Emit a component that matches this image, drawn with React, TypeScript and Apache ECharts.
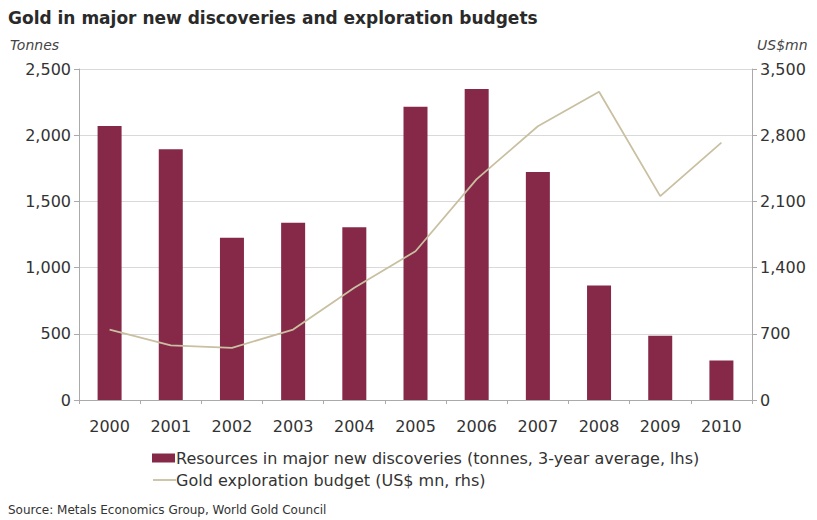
import React, { useEffect, useRef } from "react";
import * as echarts from "echarts";

const years = ["2000", "2001", "2002", "2003", "2004", "2005", "2006", "2007", "2008", "2009", "2010"];
const resources = [2070, 1894, 1225, 1339, 1305, 2214, 2348, 1722, 864, 485, 298];
const budget = [745, 578, 551, 745, 1188, 1573, 2335, 2895, 3259, 2156, 2722];
const leftTicks = { min: 0, max: 2500, interval: 500 };
const rightTicks = { min: 0, max: 3500, interval: 700 };

const titleText = "Gold in major new discoveries and exploration budgets";
const barName = "Resources in major new discoveries (tonnes, 3-year average, lhs)";
const lineName = "Gold exploration budget (US$ mn, rhs)";
const sourceText = "Source: Metals Economics Group, World Gold Council";

const FONT = "DejaVu Sans, Verdana, sans-serif";
const BAR_COLOR = "#862848";
const LINE_COLOR = "#c9c0a2";
const fmt = (v: number) => v.toLocaleString("en-US");

export default function App() {
  const ref = useRef<HTMLDivElement>(null);
  useEffect(() => {
    if (!ref.current) return;
    const chart = echarts.init(ref.current, null, { renderer: "svg" });
    chart.setOption({
      animation: false,
      backgroundColor: "#ffffff",
      textStyle: { fontFamily: FONT },
      grid: { left: 79, right: 65, top: 69, bottom: 120 },
      legend: {
        orient: "vertical",
        left: 147,
        top: 444,
        padding: 5,
        itemWidth: 23,
        itemHeight: 9,
        itemGap: 4,
        textStyle: { fontSize: 16, color: "#333", fontFamily: FONT, lineHeight: 18, padding: [0, 0, 0, -4] },
        data: [
          { name: barName, icon: "rect" },
          { name: lineName, icon: "none" },
        ],
      },
      graphic: [
        { type: "text", left: 8, top: 9, style: { text: titleText, fontSize: 17, fontWeight: "bold", fill: "#2a2a2a", fontFamily: FONT } },
        { type: "text", left: 10, top: 38, style: { text: "Tonnes", fontSize: 14, fontStyle: "italic", fill: "#444", fontFamily: FONT } },
        { type: "text", left: 757, top: 38, style: { text: "US$mn", fontSize: 14, fontStyle: "italic", fill: "#444", fontFamily: FONT } },
        { type: "text", left: 8, top: 504, style: { text: sourceText, fontSize: 12, fill: "#333", fontFamily: FONT } },
        { type: "line", shape: { x1: 153, y1: 480, x2: 176, y2: 480 }, style: { stroke: LINE_COLOR, lineWidth: 1.8 } },
      ],
      xAxis: {
        type: "category",
        data: years,
        axisLine: { lineStyle: { color: "#aaa" } },
        axisTick: { show: true, length: 4, lineStyle: { color: "#aaa" } },
        axisLabel: { fontSize: 16, color: "#333", margin: 18, fontFamily: FONT },
      },
      yAxis: [
        {
          type: "value",
          ...leftTicks,
          axisLine: { show: true, lineStyle: { color: "#aaa" } },
          axisTick: { show: true, length: 5, lineStyle: { color: "#aaa" } },
          axisLabel: { fontSize: 16, color: "#333", margin: 8, formatter: fmt, fontFamily: FONT },
          splitLine: { lineStyle: { color: "#d9d9d9" } },
        },
        {
          type: "value",
          ...rightTicks,
          position: "right",
          axisLine: { show: true, lineStyle: { color: "#aaa" } },
          axisTick: { show: true, length: 5, lineStyle: { color: "#aaa" } },
          axisLabel: { fontSize: 16, color: "#333", margin: 8, formatter: fmt, fontFamily: FONT },
          splitLine: { show: false },
        },
      ],
      series: [
        {
          name: barName,
          type: "bar",
          yAxisIndex: 0,
          data: resources,
          barWidth: 24,
          itemStyle: { color: BAR_COLOR },
        },
        {
          name: lineName,
          type: "line",
          yAxisIndex: 1,
          data: budget,
          symbol: "none",
          lineStyle: { color: LINE_COLOR, width: 1.8 },
          itemStyle: { color: LINE_COLOR },
        },
      ],
    });
    return () => chart.dispose();
  }, []);
  return <div ref={ref} style={{ width: 817, height: 520, position: "absolute", left: 0, top: 0 }} />;
}
